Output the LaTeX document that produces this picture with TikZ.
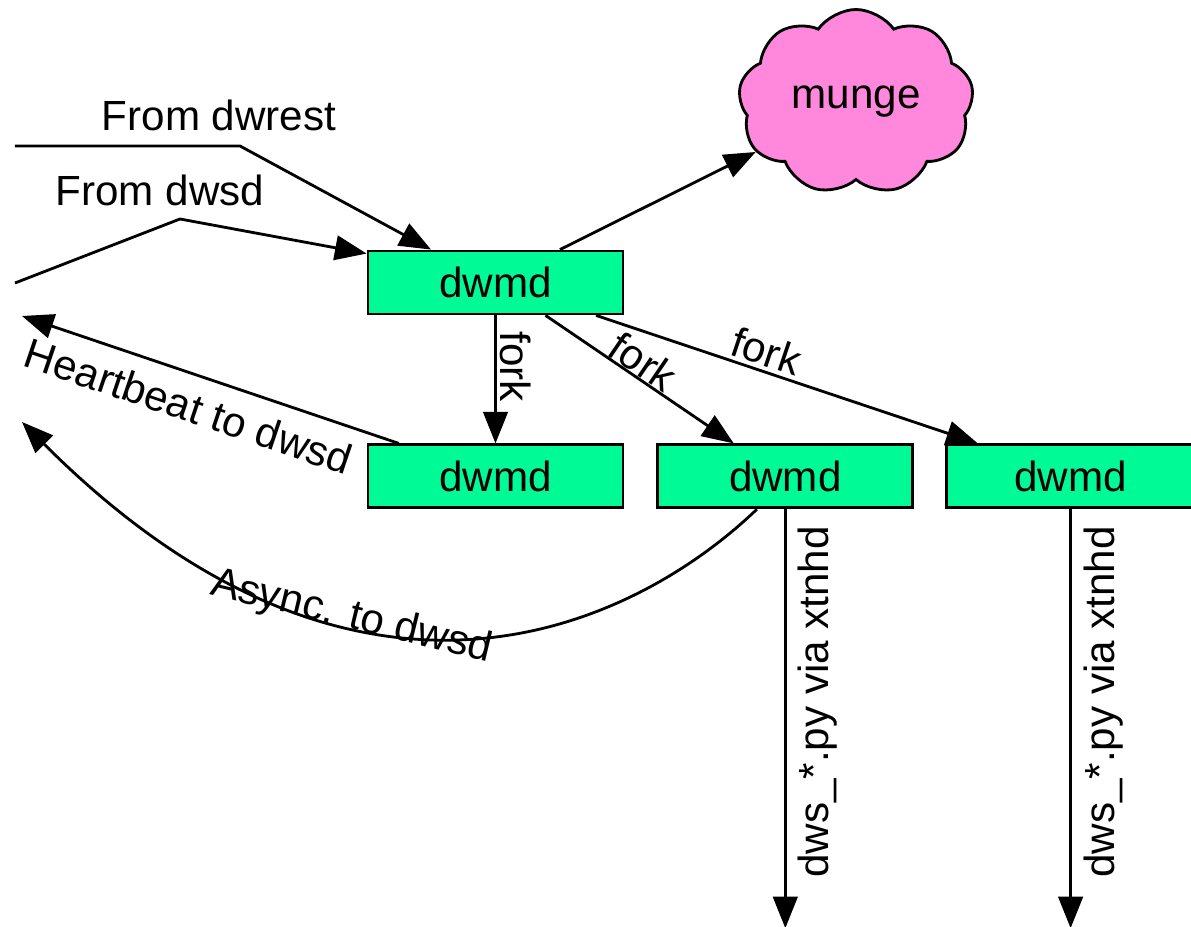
\documentclass[tikz,border=0pt]{standalone}
\usepackage{fontspec}
\setmainfont{Liberation Sans}
\usetikzlibrary{arrows.meta,positioning,calc,shapes.symbols}
\definecolor{mdgreen}{RGB}{0,250,150}
\definecolor{mungepink}{RGB}{255,136,221}
\tikzset{
  mdbox/.style={draw=black, line width=0.8pt, fill=mdgreen, minimum width=2.55cm, minimum height=0.63cm, inner sep=0pt},
  puff/.style={cloud, cloud puffs=9, cloud puff arc=110, aspect=1.25, draw=black, line width=0.8pt, fill=mungepink, minimum width=2.35cm, minimum height=1.85cm, inner sep=0pt},
  arr/.style={-{Triangle[length=9pt,width=7pt]}, line width=0.8pt},
}

\begin{document}
\begin{tikzpicture}[font=\fontsize{12}{14}\selectfont]
  \useasboundingbox (0,0) rectangle (11.91,-9.27);
  \node[mdbox] (top) at (4.955,-2.825) {dwmd};
  \node[mdbox, below=1.28cm of top] (hb) {dwmd};
  \node[mdbox, right=0.32cm of hb] (mid) {dwmd};
  \node[mdbox, right=0.31cm of mid, minimum width=2.48cm] (last) {dwmd};
  \node[puff] (munge) at (8.56,-1.02) {munge};

  % loose ends
  \coordinate (rst0) at (0.15,-1.46);
  \coordinate (rst1) at (2.40,-1.46);
  \coordinate (sd0) at (0.15,-2.83);
  \coordinate (sd1) at (1.80,-2.19);
  \coordinate (hbend) at (0.22,-3.16);
  \coordinate (asend) at (0.22,-4.22);
  \coordinate (midout) at ($(mid.south)+(0,-4.19)$);
  \coordinate (lastout) at ($(last.south)+(0,-4.19)$);

  \node (lrst) at (2.19,-1.15) {From dwrest};
  \node (lsd) at (1.60,-1.90) {From dwsd};

  \draw[arr] (rst0) -- (rst1) -- ($(top.north west)!0.25!(top.north east)$);
  \draw[arr] (sd0) -- (sd1) -- ([yshift=-0.04cm]top.north west);
  \draw[arr] ($(top.north west)!0.75!(top.north east)$) -- (munge);

  % forks
  \draw[arr] (top.south) -- node[pos=0.4, sloped, above, inner sep=1pt] (fk1) {fork} (hb.north);
  \draw[arr] ($(top.south west)!0.694!(top.south east)$) -- node[pos=0.47, sloped, above, inner sep=0pt] (fk2) {fork} ($(mid.north west)!0.30!(mid.north east)$);
  \draw[arr] ($(top.south west)!0.89!(top.south east)$) -- node[pos=0.43, sloped, above, inner sep=1pt] (fk3) {fork} ($(last.north west)!0.13!(last.north east)$);

  % back to dwsd
  \draw[arr] ($(hb.north west)!0.125!(hb.north east)$) -- node[pos=0.53, sloped, below, yshift=-1pt] (lhb) {Heartbeat to dwsd} (hbend);
  \draw[arr] ($(mid.south west)!0.39!(mid.south east)$) .. controls (6.34,-6.27) and (3.60,-7.60) .. (asend)
    node[pos=0.65, sloped, anchor=base, yshift=-1pt] (las) {Async. to dwsd};

  \draw[arr] (mid.south) -- node[pos=0.46, rotate=90, anchor=north] (py1) {dws\_*.py via xtnhd} (midout);
  \draw[arr] (last.south) -- node[pos=0.46, rotate=90, anchor=north] (py2) {dws\_*.py via xtnhd} (lastout);
\end{tikzpicture}
\end{document}
